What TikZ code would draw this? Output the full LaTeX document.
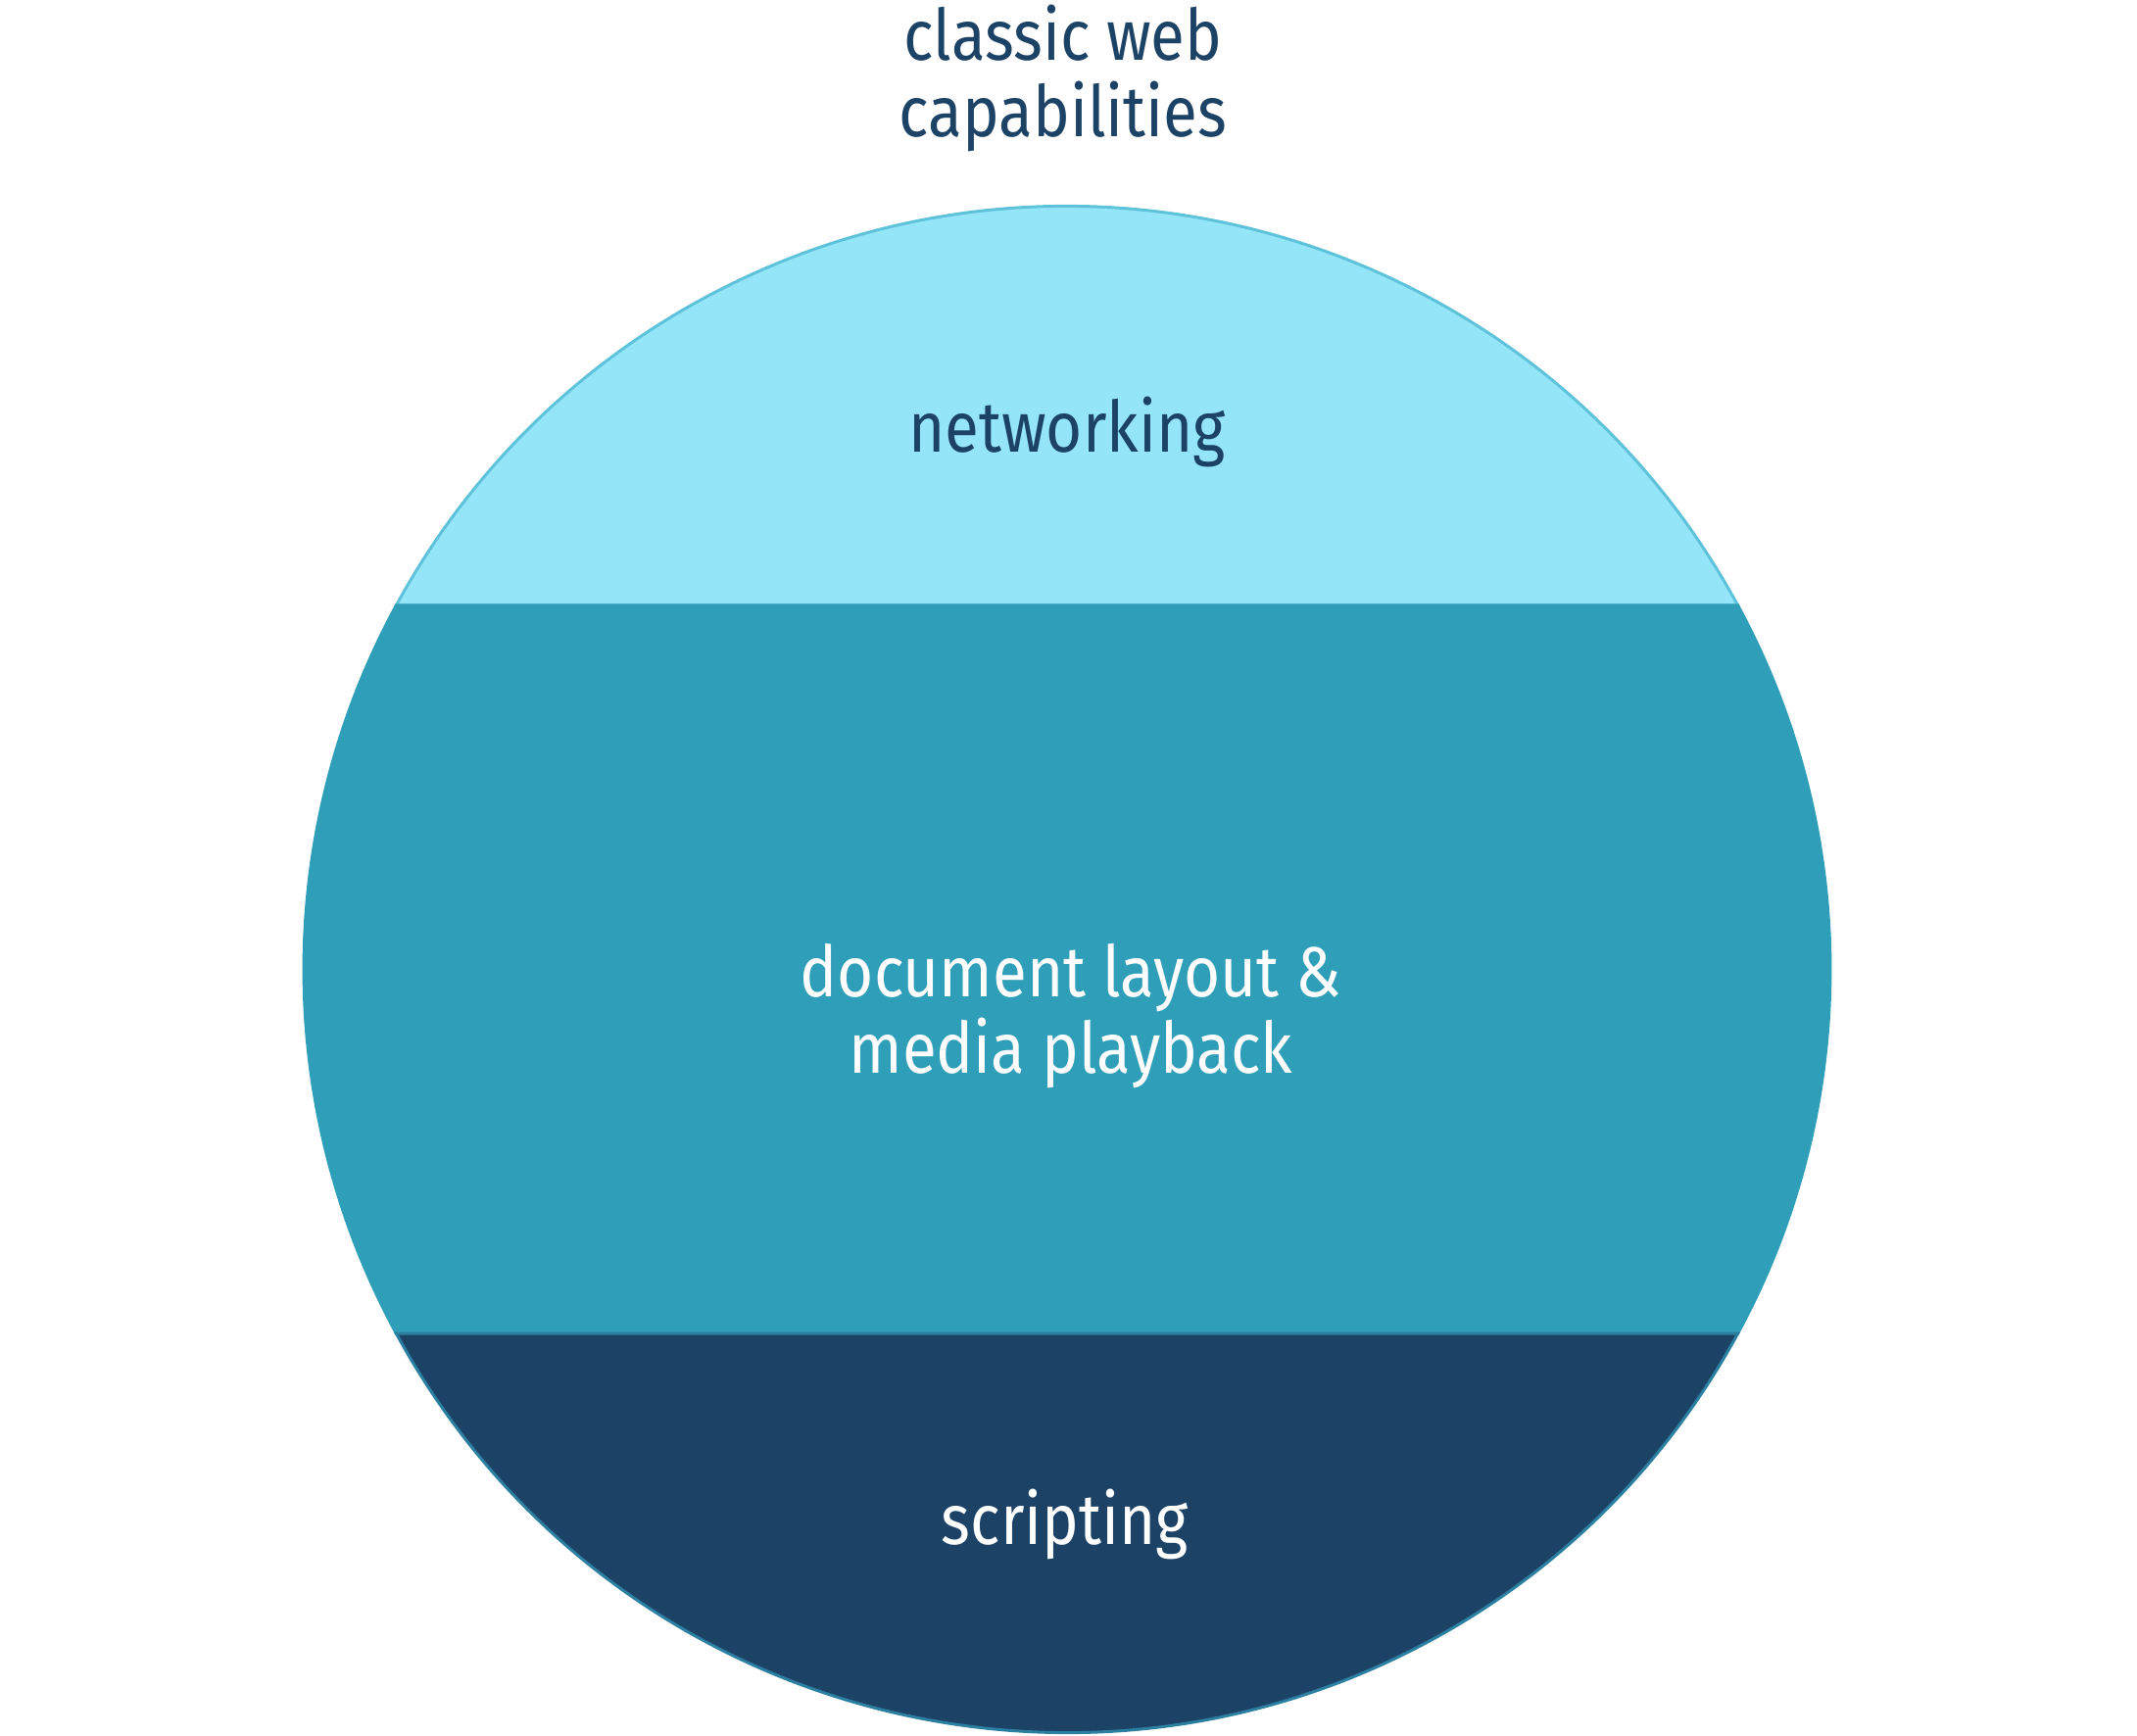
\documentclass[tikz,border=0pt]{standalone}
\usepackage{fontspec}
\setmainfont[FakeStretch=0.88]{Fira Sans}
\usepackage{xcolor}
\usetikzlibrary{calc}
\definecolor{netfill}{HTML}{94E5F7}
\definecolor{netline}{HTML}{5EC2DA}
\definecolor{docfill}{HTML}{2F9EB8}
\definecolor{scrfill}{HTML}{1C4266}
\definecolor{scrline}{HTML}{2B7FA0}
\definecolor{inkblue}{HTML}{1C4266}

\begin{document}
\begin{tikzpicture}[lbl/.style={font=\fontsize{20.6}{22.2}\selectfont,align=center,anchor=base}]
\useasboundingbox (0,0) rectangle (21.81,17.71);
\coordinate (c) at (10.89,7.815);
\draw[netline,fill=netfill,line width=0.85pt] ($(c)+(28.5:7.79)$) arc[start angle=28.5,end angle=151.5,radius=7.79] -- cycle;
\draw[docfill,fill=docfill,line width=0.85pt] ($(c)+(151.5:7.79)$) arc[start angle=151.5,end angle=208.5,radius=7.79] -- ($(c)+(331.5:7.79)$) arc[start angle=331.5,end angle=388.5,radius=7.79] -- cycle;
\draw[scrline,fill=scrfill,line width=0.85pt] ($(c)+(208.5:7.79)$) arc[start angle=208.5,end angle=331.5,radius=7.79] -- cycle;
\node[lbl,inkblue] (title) at (10.85,16.31) {classic web\\capabilities};
\node[lbl,inkblue] (net) at (10.89,13.09) {networking};
\node[lbl,white] (doc) at (10.93,6.75) {document layout \&\\media playback};
\node[lbl,white] (scr) at (10.87,1.95) {scripting};
\end{tikzpicture}
\end{document}
